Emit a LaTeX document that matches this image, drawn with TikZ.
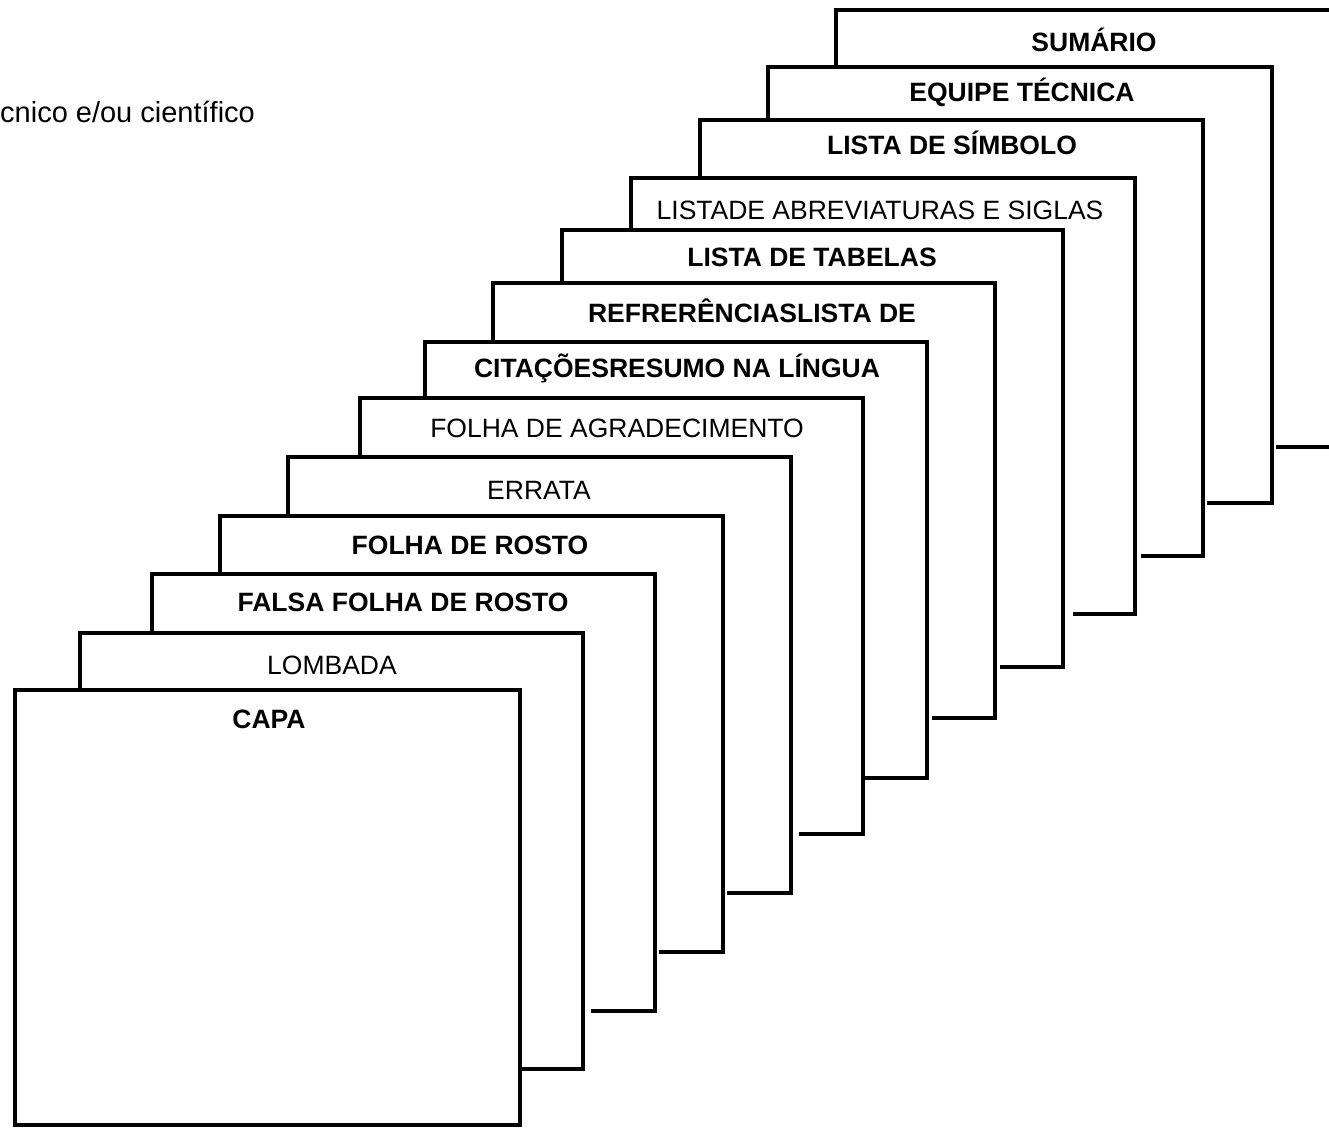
\documentclass[tikz,border=0pt]{standalone}
\usepackage{fontspec}
\setmainfont{Liberation Sans}
\begin{document}
\begin{tikzpicture}[x=1pt,y=-1pt,
  sheet/.style={line width=4.6pt,line join=miter,line cap=butt},
  title/.style={anchor=base,inner sep=0pt,font=\fontsize{26.5}{30}\selectfont},
  btitle/.style={title,font=\fontsize{26.5}{30}\selectfont\bfseries}]
\useasboundingbox (0,0) rectangle (1329,1127);
\clip (0,0) rectangle (1329,1127);

% heading fragment at the top left
\node[anchor=base west,inner sep=0pt,font=\fontsize{29}{33}\selectfont]
  (heading) at (0,122) {cnico e/ou científico};

% stacked sheets, back ones first: left, top, right, bottom,
% top of the sheet in front, start of the visible bottom edge
\foreach \l/\t/\r/\b/\pt/\bs in {
    836/10/1345/447/67/1276,
    768/67/1272/503/120/1207,
    700/120/1203/556/178/1141,
    631/178/1135/614/230/1073,
    562/230/1063/667/283/1000,
    493/283/995/718/342/932,
    425/342/927/778/398/865,
    360/398/863/834/457/799,
    288/457/791/893/516/727,
    220/516/723/952/574/659,
    152/574/655/1011/633/591,
    80/633/583/1069/690/520}
  \draw[sheet] (\l,\pt) -- (\l,\t) -- (\r,\t) -- (\r,\b) -- (\bs,\b);

% front cover
\draw[sheet] (15,690) rectangle (520,1125);

% sheet titles
\node[btitle] (capa)    at (269,728)  {CAPA};
\node[title]  (lombada) at (332,674)  {LOMBADA};
\node[btitle] (falsa)   at (403,611)  {FALSA FOLHA DE ROSTO};
\node[btitle] (rosto)   at (470,554)  {FOLHA DE ROSTO};
\node[title]  (errata)  at (539,499)  {ERRATA};
\node[title]  (agrad)   at (617,437)  {FOLHA DE AGRADECIMENTO};
\node[btitle] (citac)   at (677,377)  {CITAÇÕESRESUMO NA LÍNGUA};
\node[btitle] (refer)   at (752,322)  {REFRERÊNCIASLISTA DE};
\node[btitle] (tabelas) at (812,266)  {LISTA DE TABELAS};
\node[title]  (abrev)   at (880,219)  {LISTADE ABREVIATURAS E SIGLAS};
\node[btitle] (simbolo) at (952,154)  {LISTA DE SÍMBOLO};
\node[btitle] (equipe)  at (1022,101) {EQUIPE TÉCNICA};
\node[btitle] (sumario) at (1094,51)  {SUMÁRIO};
\end{tikzpicture}
\end{document}
